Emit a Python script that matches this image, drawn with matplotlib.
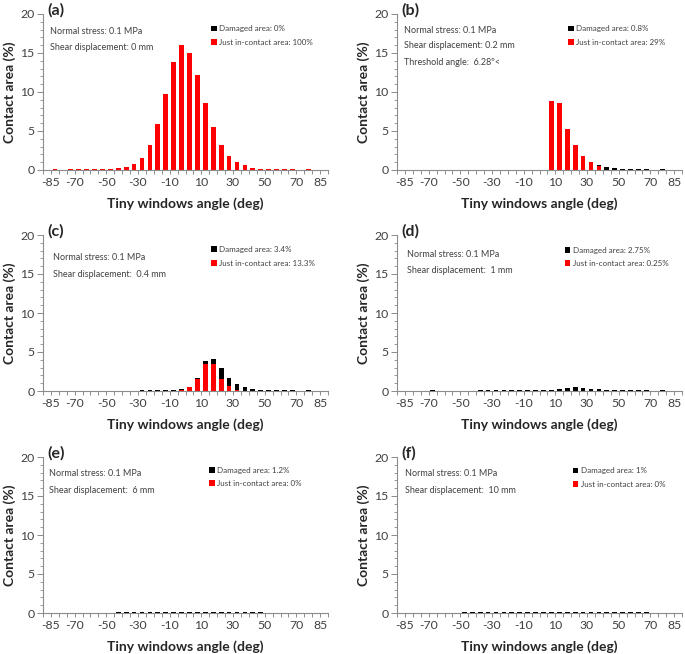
import numpy as np
import matplotlib
matplotlib.use("Agg")
from matplotlib import pyplot as plt
from matplotlib.ticker import MultipleLocator

plt.rcParams["font.family"] = ["Lato", "DejaVu Sans"]

# 5 deg windows from -90 to 90 (bin centres)
angles = np.arange(-87.5, 90, 5)
tick_vals = [-85, -70, -50, -30, -10, 10, 30, 50, 70, 85]

# (a) shear displacement 0 mm
red_a = [0, 0.1, 0, 0.1, 0.1, 0.1, 0.1, 0.1, 0.12, 0.2, 0.4, 0.8, 1.6, 3.2, 5.9, 9.8, 13.9, 16.0,
         15.0, 12.2, 8.6, 5.5, 3.2, 1.8, 1.0, 0.6, 0.3, 0.15, 0.12, 0.1, 0.1, 0.1, 0, 0.1, 0, 0]
blk_a = [0] * 36
# (b) 0.2 mm
red_b = [0] * 19 + [8.8, 8.6, 5.3, 3.15, 1.84, 1.0, 0.45] + [0] * 10
blk_b = [0] * 25 + [0.25, 0.37, 0.2, 0.15, 0.12, 0.12, 0.12, 0, 0.12, 0, 0]
# (c) 0.4 mm
red_c = [0] * 17 + [0.15, 0.5, 1.55, 3.5, 3.4, 1.55, 0.6, 0.15] + [0] * 11
blk_c = [0] * 12 + [0.1, 0.1, 0.1, 0.12, 0.12, 0.08, 0.05, 0.1, 0.35, 0.75, 1.35, 1.1, 0.8, 0.56,
                    0.3, 0.15, 0.12, 0.1, 0.1, 0.1, 0, 0.1, 0, 0]
# (d) 1 mm
red_d = [0] * 36
blk_d = [0, 0, 0, 0, 0.12, 0, 0, 0, 0, 0, 0.1, 0.1, 0.1, 0.1, 0.1, 0.1, 0.1, 0.1, 0.12, 0.15,
         0.25, 0.35, 0.45, 0.42, 0.32, 0.2, 0.12, 0.1, 0.1, 0.1, 0.1, 0.1, 0, 0.1, 0, 0]
# (e) 6 mm
red_e = [0] * 36
blk_e = [0] * 9 + [0.1] * 8 + [0.15] * 6 + [0.1] * 5 + [0] * 8
# (f) 10 mm
red_f = [0] * 36
blk_f = [0] * 8 + [0.1] * 10 + [0.15] * 4 + [0.1] * 10 + [0] * 4

letters = ["(a)", "(b)", "(c)", "(d)", "(e)", "(f)"]
shear = ["0 mm", "0.2 mm", " 0.4 mm", " 1 mm", " 6 mm", " 10 mm"]
damaged = ["0%", "0.8%", "3.4%", "2.75%", "1.2%", "1%"]
contact = ["100%", "29%", "13.3%", "0.25%", "0%", "0%"]
reds = [red_a, red_b, red_c, red_d, red_e, red_f]
blacks = [blk_a, blk_b, blk_c, blk_d, blk_e, blk_f]

# layout (figure fractions / axes fractions)
W, H = 685, 654
col_left = [43 / W, 397 / W]
row_bottom = [1 - 170 / H, 1 - 391 / H, 1 - 613 / H]
ax_w, ax_h = 285 / W, 156 / H
note_x = [0.025, 0.025, 0.034, 0.035, 0.021, 0.027]
note_y = [(0.889, 0.785), (0.892, 0.796), (0.854, 0.746), (0.877, 0.77), (0.897, 0.786), (0.897, 0.785)]
leg_x = [0.596, 0.606, 0.595, 0.593, 0.588, 0.621]
leg_y = [0.893, 0.892, 0.894, 0.891, 0.904, 0.9]

txt_c = "#404040"
fig = plt.figure(figsize=(6.85, 6.54), dpi=100)

for i in range(6):
    ax = fig.add_axes([col_left[i % 2], row_bottom[i // 2], ax_w, ax_h])
    b_red = ax.bar(angles, reds[i], width=3.0, color="#ff0000", zorder=2)
    b_blk = ax.bar(angles, blacks[i], width=3.0, bottom=reds[i], color="#000000", zorder=2)

    ax.set_xlim(-90, 90)
    ax.set_ylim(0, 20)
    ax.set_xticks(tick_vals)
    ax.set_xticklabels([str(t) for t in tick_vals])
    ax.xaxis.set_minor_locator(MultipleLocator(5))
    ax.set_yticks([0, 5, 10, 15, 20])
    ax.yaxis.set_minor_locator(MultipleLocator(1))
    for s in ["top", "right"]:
        ax.spines[s].set_visible(False)
    for s in ["left", "bottom"]:
        ax.spines[s].set_color("#8c8c8c")
        ax.spines[s].set_linewidth(0.8)
    ax.tick_params(axis="x", which="both", length=3, width=0.7, color="#8c8c8c", labelsize=8.8,
                   labelcolor=txt_c, pad=2)
    ax.tick_params(axis="y", which="major", length=4, width=0.7, color="#8c8c8c", labelsize=8.8,
                   labelcolor=txt_c, pad=2)
    ax.tick_params(axis="y", which="minor", length=2.5, width=0.6, color="#8c8c8c")

    ax.set_xlabel("Tiny windows angle (deg)", fontsize=10, fontweight="bold", color="#262626", labelpad=7)
    ax.set_ylabel("Contact area (%)", fontsize=10, fontweight="bold", color="#262626", labelpad=3)

    ax.text(0.017, 1.025, letters[i], transform=ax.transAxes, fontsize=11.5, fontweight="bold",
            va="center", ha="left", color="#262626")
    ax.text(note_x[i], note_y[i][0], "Normal stress: 0.1 MPa", transform=ax.transAxes,
            fontsize=6.5, va="center", color=txt_c)
    ax.text(note_x[i], note_y[i][1], "Shear displacement: " + shear[i], transform=ax.transAxes,
            fontsize=6.5, va="center", color=txt_c)
    if i == 1:
        ax.text(note_x[i], 0.692, "Threshold angle:  6.28º<", transform=ax.transAxes,
                fontsize=6.5, va="center", color=txt_c)

    ax.legend([b_blk, b_red], ["Damaged area: " + damaged[i], "Just in-contact area: " + contact[i]],
              loc="upper left", bbox_to_anchor=(leg_x[i] - 0.005, leg_y[i] + 0.035), frameon=False,
              fontsize=5.8, handlelength=0.7, handleheight=0.7, handletextpad=0.3, labelspacing=0.8,
              borderpad=0, borderaxespad=0, labelcolor=txt_c)

plt.savefig("out.png", dpi=100)
